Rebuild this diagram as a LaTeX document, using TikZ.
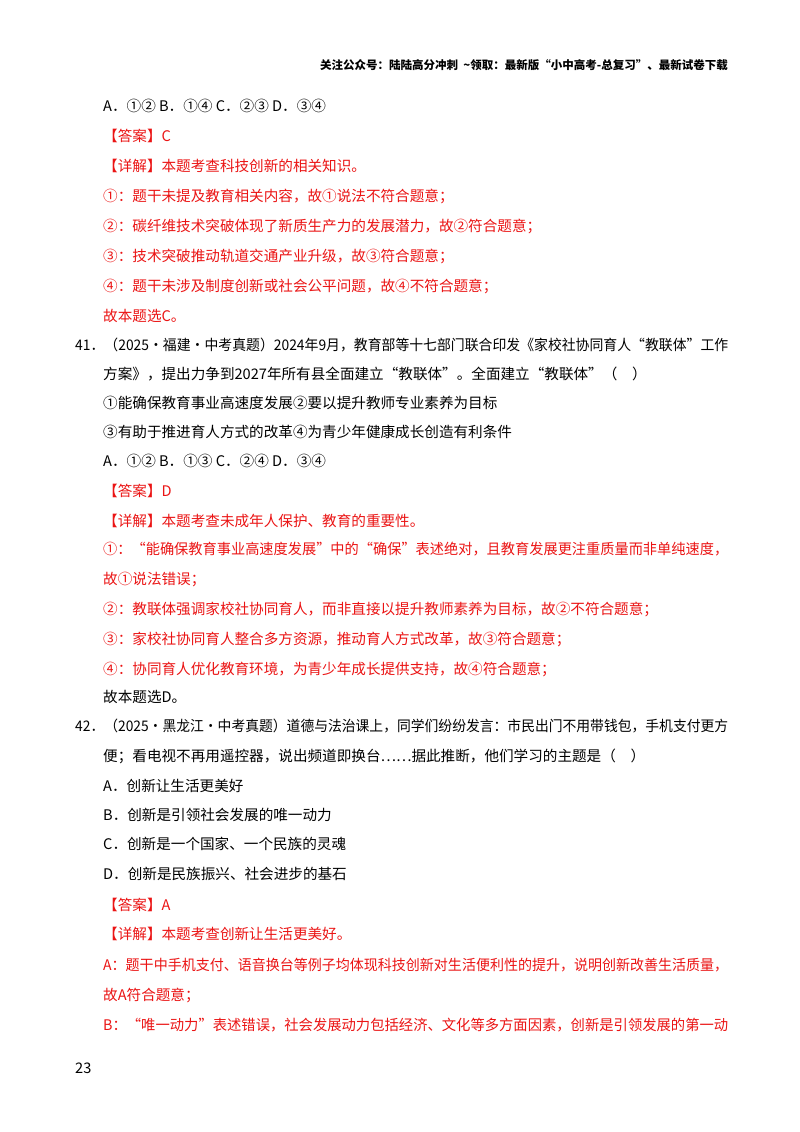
\documentclass[tikz,border=0pt]{standalone}
\usepackage{graphicx}
\usepackage{fontspec}
\setmainfont{Noto Sans CJK SC}
\definecolor{ans}{RGB}{235,20,20}
\newcommand{\fitw}[2]{\resizebox{#1}{\height}{#2}}
\begin{document}
\begin{tikzpicture}[x=1pt,y=-1pt,
  ln/.style={anchor=west,inner sep=0pt,font=\fontsize{14.6}{16}\selectfont},
  rl/.style={ln,text=ans}]
\useasboundingbox[fill=white] (0,0) rectangle (800,1132);
\node[anchor=east,inner sep=0pt,font=\fontsize{11.5}{13}\selectfont\bfseries] (hd) at (728,65) {关注公众号：陆陆高分冲刺\ \ {\textasciitilde}领取：最新版“小中高考-总复习”、最新试卷下载};
\node[ln] (l1) at (103,106) {A．①② B．①④ C．②③ D．③④};
\node[rl] (l2) at (103,136) {【答案】C};
\node[rl] (l3) at (103,166) {【详解】本题考查科技创新的相关知识。};
\node[rl] (l4) at (103,196) {①：题干未提及教育相关内容，故①说法不符合题意；};
\node[rl] (l5) at (103,226) {②：碳纤维技术突破体现了新质生产力的发展潜力，故②符合题意；};
\node[rl] (l6) at (103,256) {③：技术突破推动轨道交通产业升级，故③符合题意；};
\node[rl] (l7) at (103,286) {④：题干未涉及制度创新或社会公平问题，故④不符合题意；};
\node[rl] (l8) at (103,316) {故本题选C。};
\node[ln] (q1) at (75,345) {\fitw{653pt}{41．（2025·福建·中考真题）2024年9月，教育部等十七部门联合印发《家校社协同育人“教联体”工作}};
\node[ln] (q2) at (103,374) {方案》，提出力争到2027年所有县全面建立“教联体”。全面建立“教联体”（\quad{}）};
\node[ln] (q3) at (103,403) {①能确保教育事业高速度发展②要以提升教师专业素养为目标};
\node[ln] (q4) at (103,432) {③有助于推进育人方式的改革④为青少年健康成长创造有利条件};
\node[ln] (q5) at (103,461) {A．①② B．①③ C．②④ D．③④};
\node[rl] (a1) at (103,491) {【答案】D};
\node[rl] (a2) at (103,521) {【详解】本题考查未成年人保护、教育的重要性。};
\node[rl] (a3) at (103,549) {\fitw{625pt}{①：“能确保教育事业高速度发展”中的“确保”表述绝对，且教育发展更注重质量而非单纯速度，}};
\node[rl] (a4) at (103,579) {故①说法错误；};
\node[rl] (a5) at (103,609) {②：教联体强调家校社协同育人，而非直接以提升教师素养为目标，故②不符合题意；};
\node[rl] (a6) at (103,639) {③：家校社协同育人整合多方资源，推动育人方式改革，故③符合题意；};
\node[rl] (a7) at (103,669) {④：协同育人优化教育环境，为青少年成长提供支持，故④符合题意；};
\node[ln] (a8) at (103,697) {故本题选D。};
\node[ln] (r1) at (75,726) {\fitw{653pt}{42．（2025·黑龙江·中考真题）道德与法治课上，同学们纷纷发言：市民出门不用带钱包，手机支付更方}};
\node[ln] (r2) at (103,756) {便；看电视不再用遥控器，说出频道即换台……据此推断，他们学习的主题是（\quad{}）};
\node[ln] (r3) at (103,786) {A．创新让生活更美好};
\node[ln] (r4) at (103,815) {B．创新是引领社会发展的唯一动力};
\node[ln] (r5) at (103,844) {C．创新是一个国家、一个民族的灵魂};
\node[ln] (r6) at (103,874) {D．创新是民族振兴、社会进步的基石};
\node[rl] (b1) at (103,905) {【答案】A};
\node[rl] (b2) at (103,934) {【详解】本题考查创新让生活更美好。};
\node[rl] (b3) at (103,965) {\fitw{625pt}{A：题干中手机支付、语音换台等例子均体现科技创新对生活便利性的提升，说明创新改善生活质量，}};
\node[rl] (b4) at (103,995) {故A符合题意；};
\node[rl] (b5) at (103,1025) {\fitw{625pt}{B：“唯一动力”表述错误，社会发展动力包括经济、文化等多方面因素，创新是引领发展的第一动}};
\node[ln] (pg) at (75,1068) {23};
\end{tikzpicture}
\end{document}
